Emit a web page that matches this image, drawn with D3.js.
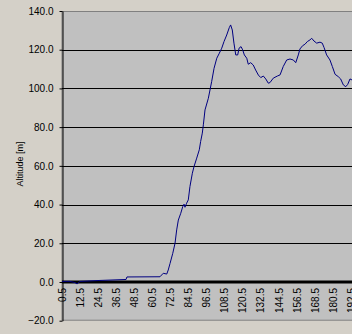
<!DOCTYPE html>
<html>
<head>
<meta charset="utf-8">
<script src="https://cdn.jsdelivr.net/npm/d3@7"></script>
<style>
  body { margin: 0; background: #d4d0c8; }
  text { font-family: Arial, "Liberation Sans", sans-serif; }
</style>
</head>
<body>
<script>
// distance (category axis) and altitude
var distance = [0.5, 5.8, 9.1, 10.5, 12.4, 25.7, 43.0, 43.6, 65.5, 67.7, 70.0, 71.0, 72.2, 74.0,
    75.5, 76.6, 77.7, 79.3, 80.6, 81.5, 82.1, 83.2, 84.3, 85.4, 87.0, 88.1, 89.9, 91.6, 92.5,
    93.6, 94.3, 95.4, 97.6, 99.8, 101.4, 103.2, 104.9, 106.5, 108.0, 109.8, 111.5, 112.4,
    113.5, 114.6, 115.8, 117.1, 118.0, 119.3, 120.4, 121.5, 123.1, 124.1, 125.7, 127.4,
    129.0, 130.8, 132.4, 134.1, 135.7, 137.4, 138.5, 140.7, 143.4, 145.2, 147.3, 149.6,
    151.8, 154.0, 155.6, 157.3, 158.4, 160.2, 161.7, 163.3, 165.1, 166.2, 167.7, 169.5,
    171.7, 173.2, 174.4, 176.1, 178.3, 179.9, 181.7, 183.8, 185.4, 187.2, 188.8, 190.1,
    191.6, 192.9, 194.5];
var altitude = [0.3, 0.3, -0.3, -1.0, 0.3, 0.8, 1.3, 2.6, 2.7, 4.5, 4.1, 6.2, 9.6, 14.8,
    20.0, 26.9, 32.0, 35.5, 38.9, 40.2, 38.6, 40.7, 42.4, 49.3, 56.2, 59.6, 64.0, 68.3, 72.6,
    76.9, 81.2, 88.9, 94.9, 103.5, 110.4, 115.6, 118.2, 120.8, 124.2, 127.6, 131.4, 132.8,
    130.2, 123.4, 117.3, 117.3, 120.8, 121.6, 119.9, 117.3, 115.6, 112.5, 113.3, 112.1,
    109.5, 106.9, 105.6, 106.4, 104.9, 102.7, 103.0, 105.3, 106.4, 107.0, 111.3, 114.7,
    115.2, 114.7, 113.3, 117.3, 120.4, 122.1, 122.8, 124.2, 125.1, 125.9, 124.5, 123.4,
    123.9, 123.4, 121.1, 117.3, 114.7, 111.3, 107.3, 106.1, 104.9, 101.8, 100.9, 102.1,
    104.9, 104.4, 104.0];
var xTicks = [0.5, 12.5, 24.5, 36.5, 48.5, 60.5, 72.5, 84.5, 96.5, 108.5, 120.5, 132.5,
    144.5, 156.5, 168.5, 180.5, 192.5];
var yTicks = [-20, 0, 20, 40, 60, 80, 100, 120, 140];

var W = 352, H = 334;
var plotLeft = 62, plotTop = 11, plotBottom = 320.7;

var svg = d3.select("body").append("svg")
    .attr("width", W)
    .attr("height", H);

svg.append("rect").attr("width", W).attr("height", H).attr("fill", "#d4d0c8");

var x = d3.scaleLinear().domain([0.5, 192.5]).range([plotLeft, plotLeft + 192 * 1.507]);
var y = d3.scaleLinear().domain([-20, 140]).range([plotBottom, plotTop]);

// plot area
svg.append("rect")
    .attr("x", plotLeft).attr("y", plotTop + 0.5)
    .attr("width", W - plotLeft + 5).attr("height", plotBottom - plotTop - 1)
    .attr("fill", "#c0c0c0")
    .attr("stroke", "#808080");

// gridlines
svg.append("g")
    .selectAll("line")
    .data(yTicks.filter(function(d) { return d > -20 && d < 140 && d != 0; }))
    .enter()
    .append("line")
    .attr("x1", plotLeft).attr("x2", W)
    .attr("y1", function(d) { return Math.round(y(d)) + 0.5; })
    .attr("y2", function(d) { return Math.round(y(d)) + 0.5; })
    .attr("stroke", "#000");

// y axis
var yAxis = svg.append("g")
    .attr("transform", "translate(" + (plotLeft + 0.5) + ",0)")
    .call(d3.axisLeft(y).tickValues(yTicks).tickFormat(d3.format(".1f")).tickSize(3).tickSizeOuter(0));
yAxis.select(".domain").attr("stroke", "#000");
yAxis.selectAll(".tick line").attr("stroke", "#000");
yAxis.selectAll(".tick text")
    .attr("x", -9)
    .attr("font-size", 10)
    .attr("fill", "#000")
    .attr("font-family", "Arial, 'Liberation Sans', sans-serif");

// zero line (category axis)
svg.append("line")
    .attr("x1", plotLeft).attr("x2", W)
    .attr("y1", y(0)).attr("y2", y(0))
    .attr("stroke", "#000")
    .attr("stroke-width", 3);

// x tick labels, rotated
svg.append("g")
    .selectAll("text")
    .data(xTicks)
    .enter()
    .append("text")
    .attr("transform", function(d) { return "translate(" + x(d) + "," + 288 + ") rotate(-90)"; })
    .attr("text-anchor", "end")
    .attr("dy", "0.35em")
    .attr("font-size", 10)
    .attr("fill", "#000")
    .text(function(d) { return d3.format(".1f")(d); });

// altitude line
var line = d3.line()
    .x(function(d, i) { return x(distance[i]); })
    .y(function(d) { return y(d); });

svg.append("path")
    .datum(altitude)
    .attr("d", line)
    .attr("fill", "none")
    .attr("stroke", "#000080")
    .attr("stroke-width", 1);

// axis title
svg.append("text")
    .attr("transform", "translate(23,164) rotate(-90)")
    .attr("text-anchor", "middle")
    .attr("font-size", 9)
    .attr("fill", "#000")
    .text("Altitude [m]");
</script>
</body>
</html>
